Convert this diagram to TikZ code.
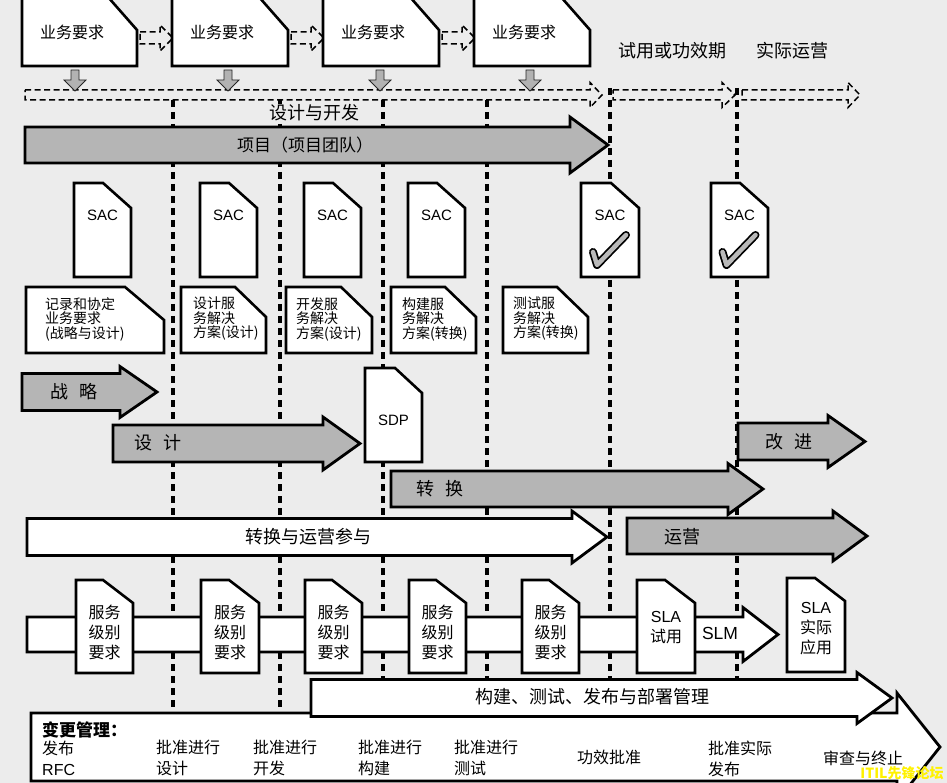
\documentclass[tikz,border=0pt]{standalone}
\usepackage{fontspec}
\setmainfont{Noto Sans CJK SC}
\newfontfamily\arialfont{Liberation Sans}
\usetikzlibrary{positioning}
\colorlet{bgcol}{gray!15}

% block arrow: style, tail x, head x, tip x, centre y, body half height, head half height
\newcommand{\blockarrow}[7]{%
  \draw[#1] (#2,#5-#6) -- (#3,#5-#6) -- (#3,#5-#7) -- (#4,#5)
    -- (#3,#5+#7) -- (#3,#5+#6) -- (#2,#5+#6) -- cycle;}
% sheet with a cut corner: name, left, top, right, bottom, cut x, cut y
\newcommand{\paperdoc}[7]{%
  \draw[docline] (#2,#3) -- (#4-#6,#3) -- (#4,#3+#7) -- (#4,#5) -- (#2,#5) -- cycle;
  \coordinate (#1) at ({(#2+#4)/2},{(#3+#5)/2});}
% small gray arrow pointing down
\newcommand{\droparrow}[1]{%
  \draw[dropstyle] (#1-4,70) -- (#1+4,70) -- (#1+4,80) -- (#1+11,80) -- (#1,91)
    -- (#1-11,80) -- (#1-4,80) -- cycle;}

\begin{document}
\begin{tikzpicture}[x=1pt, y=-1pt,
  docline/.style={draw=black, line width=2.6pt, fill=white, line join=miter},
  bararrow/.style={draw=black, line width=2.8pt, fill=gray!58},
  whitearrow/.style={draw=black, line width=2.8pt, fill=white},
  dasharrow/.style={draw=black, line width=1.5pt, dash pattern=on 6pt off 3.5pt},
  dropstyle/.style={draw=gray!30!black, line width=0.8pt, fill=gray!60},
  phaseline/.style={line width=3.6pt, dash pattern=on 7pt off 5pt},
  tickout/.style={line width=8pt, line join=round, line cap=round},
  tickin/.style={line width=4.5pt, line join=round, line cap=round, gray!55},
  reqtext/.style={font=\fontsize{16}{19}\selectfont, inner sep=0pt},
  phasetext/.style={font=\fontsize{18}{21}\selectfont, inner sep=1pt},
  sactext/.style={font=\arialfont\fontsize{15}{18}\selectfont, inner sep=0pt},
  tasktext/.style={font=\fontsize{14}{14.5}\selectfont, align=left, anchor=west, inner sep=0pt},
  bartext/.style={font=\fontsize{18}{21}\selectfont, inner sep=0pt},
  slrtext/.style={font=\fontsize{16}{20}\selectfont, align=center, inner sep=0pt},
  cmtext/.style={font=\fontsize{16}{21}\selectfont, align=left, anchor=west, inner sep=0pt}
]
  \useasboundingbox (0,0) rectangle (947,783);
  \fill[bgcol] (0,0) rectangle (947,783);
  \clip (0,0) rectangle (947,783);

  % Phase borders
  \foreach \x/\y in {173/100, 280/100, 383/100, 487/100, 610/88, 737/88}
    \draw[phaseline] (\x,\y) -- (\x,712);

  % Phases
  \blockarrow{dasharrow}{25}{590}{602}{95}{5}{12.5}
  \blockarrow{dasharrow}{613}{722}{735}{95}{5}{12.5}
  \blockarrow{dasharrow}{742}{848}{860}{95}{5}{12.5}
  \node[phasetext, fill=bgcol] (design dev) at (314,113) {设计与开发};
  \node[phasetext] (pilot) at (672,51) {试用或功效期};
  \node[phasetext] (live) at (792,51) {实际运营};

  % Business requirements
  \blockarrow{dasharrow}{140}{160}{173}{38}{6}{13}
  \blockarrow{dasharrow}{291}{311}{324}{38}{6}{13}
  \blockarrow{dasharrow}{442}{462}{475}{38}{6}{13}
  \paperdoc{req1}{22}{-3}{137}{66}{29}{33}
  \paperdoc{req2}{172}{-3}{288}{66}{29}{33}
  \paperdoc{req3}{323}{-3}{439}{66}{29}{33}
  \paperdoc{req4}{474}{-3}{590}{66}{29}{33}
  \node[reqtext] (req1t) at (72,32) {业务要求};
  \node[reqtext] (req2t) at (222,32) {业务要求};
  \node[reqtext] (req3t) at (373,32) {业务要求};
  \node[reqtext] (req4t) at (524,32) {业务要求};
  \droparrow{75}
  \droparrow{228}
  \droparrow{380}
  \droparrow{530}

  % Project
  \blockarrow{bararrow}{25}{570}{608}{145}{18}{28}
  \node[bartext, font=\fontsize{17}{20}\selectfont] (project) at (305,145) {项目（项目团队）};

  % SAC sheets
  \paperdoc{sac1}{74}{183}{131}{277}{28}{25}
  \paperdoc{sac2}{200}{183}{257}{277}{28}{25}
  \paperdoc{sac3}{304}{183}{361}{277}{28}{25}
  \paperdoc{sac4}{408}{183}{465}{277}{28}{25}
  \paperdoc{sac5}{581}{183}{639}{277}{28}{25}
  \paperdoc{sac6}{711}{183}{768}{277}{28}{25}
  \node[sactext] (sac1t) at ([yshift=15pt]sac1) {SAC};
  \node[sactext] (sac2t) at ([yshift=15pt]sac2) {SAC};
  \node[sactext] (sac3t) at ([yshift=15pt]sac3) {SAC};
  \node[sactext] (sac4t) at ([yshift=15pt]sac4) {SAC};
  \node[sactext] (sac5t) at ([yshift=15pt]sac5) {SAC};
  \node[sactext] (sac6t) at ([yshift=15pt]sac6) {SAC};
  \draw[tickout] ([shift={(-17,22)}]sac5) -- ([shift={(-13,35)}]sac5) -- ([shift={(16,5)}]sac5);
  \draw[tickin] ([shift={(-17,22)}]sac5) -- ([shift={(-13,35)}]sac5) -- ([shift={(16,5)}]sac5);
  \draw[tickout] ([shift={(-17,22)}]sac6) -- ([shift={(-13,35)}]sac6) -- ([shift={(16,5)}]sac6);
  \draw[tickin] ([shift={(-17,22)}]sac6) -- ([shift={(-13,35)}]sac6) -- ([shift={(16,5)}]sac6);

  % Solution sheets
  \paperdoc{task1}{26}{287}{164}{353}{39}{33}
  \paperdoc{task2}{181}{287}{266}{353}{31}{30}
  \paperdoc{task3}{286}{287}{372}{353}{31}{30}
  \paperdoc{task4}{391}{287}{476}{353}{31}{30}
  \paperdoc{task5}{503}{287}{588}{353}{31}{30}
  \node[tasktext] (task1t) at (45,319) {记录和协定\\业务要求\\(战略与设计)};
  \node[tasktext] (task2t) at (193,319) {设计服\\务解决\\方案(设计)};
  \node[tasktext] (task3t) at (296,319) {开发服\\务解决\\方案(设计)};
  \node[tasktext] (task4t) at (402,319) {构建服\\务解决\\方案(转换)};
  \node[tasktext] (task5t) at (513,319) {测试服\\务解决\\方案(转换)};

  % Lifecycle stages
  \blockarrow{bararrow}{22}{120}{157}{392}{18.5}{25.5}
  \node[bartext] (strategy) at (74,392) {战\hspace{12pt}略};
  \blockarrow{bararrow}{113}{323}{360}{443.5}{18.5}{26.5}
  \node[bartext] (design) at (158,443) {设\hspace{12pt}计};
  \paperdoc{sdp}{365}{368}{422}{462}{27}{25}
  \node[sactext] (sdpt) at ([yshift=-5pt]sdp) {SDP};
  \blockarrow{bararrow}{738}{828}{865}{441.5}{18.5}{26}
  \node[bartext] (improve) at (789,442) {改\hspace{12pt}进};
  \blockarrow{bararrow}{391}{728}{763}{489}{18}{25.5}
  \node[bartext] (transition) at (440,489) {转\hspace{12pt}换};
  \blockarrow{whitearrow}{27}{572}{607}{537}{18.5}{26}
  \node[bartext] (early life) at (308,537) {转换与运营参与};
  \blockarrow{bararrow}{627}{833}{867}{536}{18}{25}
  \node[bartext] (operation) at (682,537) {运营};

  % Service levels
  \blockarrow{whitearrow}{27}{743}{778}{634.5}{17.5}{27}
  \node[sactext, font=\arialfont\fontsize{17.5}{20}\selectfont] (slm) at (720,633) {SLM};
  \paperdoc{slr1}{76}{580}{133}{673}{30}{23}
  \paperdoc{slr2}{201}{580}{259}{673}{30}{23}
  \paperdoc{slr3}{305}{580}{362}{673}{30}{23}
  \paperdoc{slr4}{409}{580}{466}{673}{30}{23}
  \paperdoc{slr5}{522}{580}{579}{673}{30}{23}
  \paperdoc{slapilot}{637}{580}{695}{673}{30}{23}
  \paperdoc{slalive}{787}{578}{845}{672}{30}{23}
  \node[slrtext] (slr1t) at ([yshift=-5.5pt]slr1) {服务\\级别\\要求};
  \node[slrtext] (slr2t) at ([yshift=-5.5pt]slr2) {服务\\级别\\要求};
  \node[slrtext] (slr3t) at ([yshift=-5.5pt]slr3) {服务\\级别\\要求};
  \node[slrtext] (slr4t) at ([yshift=-5.5pt]slr4) {服务\\级别\\要求};
  \node[slrtext] (slr5t) at ([yshift=-5.5pt]slr5) {服务\\级别\\要求};
  \node[slrtext] (slapilott) at ([yshift=-1pt]slapilot) {{\arialfont SLA}\\试用};
  \node[slrtext] (slalivet) at ([yshift=-4pt]slalive) {{\arialfont SLA}\\实际\\应用};

  % Change management
  \blockarrow{whitearrow}{31}{897}{940}{747}{34}{54}
  \blockarrow{whitearrow}{311}{857}{892}{698}{18.5}{25.5}
  \node[bartext] (rdm) at (592,697) {构建、测试、发布与部署管理};
  \node[cmtext, font=\fontsize{17}{20}\selectfont\bfseries] (cmhead) at (42,730) {变更管理：};
  \node[cmtext] (cm1) at (42,758) {发布\\{\arialfont RFC}};
  \node[cmtext] (cm2) at (156,758) {批准进行\\设计};
  \node[cmtext] (cm3) at (253,758) {批准进行\\开发};
  \node[cmtext] (cm4) at (358,758) {批准进行\\构建};
  \node[cmtext] (cm5) at (454,758) {批准进行\\测试};
  \node[cmtext] (cm6) at (577,757) {功效批准};
  \node[cmtext] (cm7) at (708,759) {批准实际\\发布};
  \node[cmtext] (cm8) at (823,758) {审查与终止};
  \node[font=\fontsize{14}{16}\selectfont\bfseries, text=yellow, inner sep=0pt] (mark) at (902,773) {ITIL先锋论坛};
\end{tikzpicture}
\end{document}
